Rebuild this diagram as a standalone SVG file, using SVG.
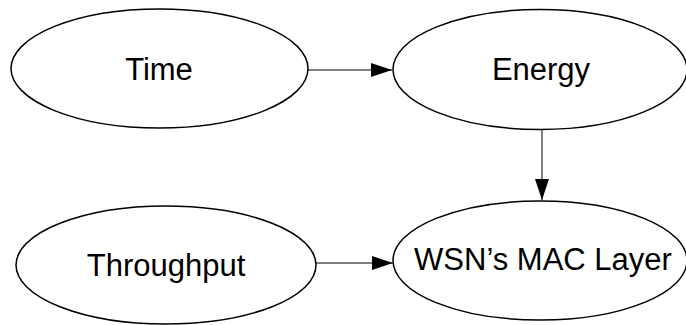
<svg xmlns="http://www.w3.org/2000/svg" width="686" height="325" viewBox="0 0 686 325">
  <style>
    .node ellipse { fill: #ffffff; stroke: #000000; stroke-width: 1.5; }
    .node text { font-family: "Liberation Sans", Arial, sans-serif; font-size: 31px; fill: #000000; text-anchor: middle; }
    .edge { stroke: #000000; stroke-width: 1; fill: none; marker-end: url(#arrow); }
  </style>
  <defs>
    <marker id="arrow" markerUnits="userSpaceOnUse" markerWidth="21" markerHeight="14" refX="21" refY="7" orient="auto">
      <path d="M0,0 L21,7 L0,14 Z" fill="#000000"/>
    </marker>
  </defs>

  <rect width="686" height="325" fill="#ffffff"/>

  <g id="connectors">
    <line class="edge" x1="308" y1="70" x2="392" y2="70"/>
    <line class="edge" x1="542" y1="129.5" x2="542" y2="200"/>
    <line class="edge" x1="316" y1="263" x2="393" y2="263"/>
  </g>

  <g id="node-time" class="node">
    <ellipse cx="159.5" cy="68.5" rx="148.5" ry="59.5"/>
    <text x="159" y="79.5">Time</text>
  </g>

  <g id="node-energy" class="node">
    <ellipse cx="540" cy="69.5" rx="147" ry="60"/>
    <text x="541" y="79.5">Energy</text>
  </g>

  <g id="node-throughput" class="node">
    <ellipse cx="166" cy="265" rx="150" ry="59"/>
    <text x="166" y="276">Throughput</text>
  </g>

  <g id="node-mac" class="node">
    <ellipse cx="540" cy="260.5" rx="147" ry="59.5"/>
    <text x="543" y="270">WSN’s MAC Layer</text>
  </g>
</svg>
